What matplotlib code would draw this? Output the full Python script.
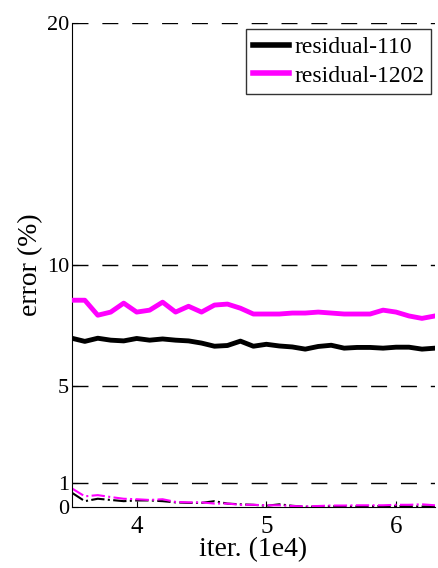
import matplotlib
matplotlib.use("Agg")
import matplotlib.pyplot as plt
import numpy as np

iters = [3.5, 3.6, 3.7, 3.8, 3.9, 4.0, 4.1, 4.2, 4.3, 4.4, 4.5, 4.6, 4.7, 4.8, 4.9,
         5.0, 5.1, 5.2, 5.3, 5.4, 5.5, 5.6, 5.7, 5.8, 5.9, 6.0, 6.1, 6.2, 6.3]
test_110 = [6.98, 6.85, 6.98, 6.90, 6.87, 6.97, 6.90, 6.95, 6.90, 6.87, 6.78, 6.65, 6.68, 6.86, 6.65,
            6.73, 6.66, 6.62, 6.53, 6.64, 6.69, 6.57, 6.60, 6.60, 6.57, 6.61, 6.61, 6.53, 6.57]
test_1202 = [8.55, 8.55, 7.93, 8.06, 8.43, 8.06, 8.14, 8.47, 8.06, 8.30, 8.06, 8.35, 8.39, 8.22, 7.98,
             7.98, 7.98, 8.02, 8.02, 8.06, 8.02, 7.98, 7.98, 7.98, 8.14, 8.06, 7.90, 7.80, 7.90]
train_110 = [0.60, 0.25, 0.35, 0.30, 0.25, 0.28, 0.28, 0.25, 0.20, 0.18, 0.18, 0.25, 0.15, 0.12, 0.10,
             0.06, 0.12, 0.06, 0.02, 0.03, 0.04, 0.03, 0.03, 0.04, 0.05, 0.05, 0.04, 0.03, 0.03]
train_1202 = [0.78, 0.45, 0.50, 0.42, 0.35, 0.33, 0.30, 0.33, 0.22, 0.20, 0.20, 0.15, 0.15, 0.10, 0.10,
              0.08, 0.08, 0.05, 0.03, 0.05, 0.07, 0.07, 0.08, 0.08, 0.08, 0.10, 0.10, 0.12, 0.08]
labels = ["residual-110", "residual-1202"]
yticks = [0, 1, 5, 10, 20]
xticks = [4, 5, 6]

plt.rcParams['font.family'] = ['Liberation Serif', 'DejaVu Serif']
MAG = '#ff00ff'

fig = plt.figure(figsize=(4.38, 5.68), dpi=100)
ax = fig.add_axes([0.164, 0.107, 0.829, 0.8525])

for yv in yticks[1:]:
    ax.axhline(yv, color='black', lw=1.0, dashes=(11.5, 10), zorder=1)

ax.plot(iters, train_110, color='black', lw=1.5, linestyle='-.', zorder=2)
ax.plot(iters, train_1202, color=MAG, lw=1.5, linestyle='-.', zorder=2)
ax.plot(iters, test_110, color='black', lw=3.5, label=labels[0], zorder=3)
ax.plot(iters, test_1202, color=MAG, lw=3.5, label=labels[1], zorder=3)

ax.set_xlim(3.5, 6.3)
ax.set_ylim(0, 20)
ax.set_yticks(yticks)
ax.set_xticks(xticks)
ax.tick_params(axis='y', direction='in', labelsize=16, length=4, pad=2)
ax.tick_params(axis='x', direction='in', labelsize=18, length=4, pad=6)
ax.spines['top'].set_visible(False)
ax.spines['right'].set_visible(False)
ax.set_xlabel('iter. (1e4)', fontsize=20, labelpad=0)
ax.set_ylabel('error (%)', fontsize=20, labelpad=3)

leg = ax.legend(loc='upper right', bbox_to_anchor=(0.99, 0.987), fontsize=17,
                handlelength=1.55, handletextpad=0.2, borderpad=0.3,
                labelspacing=0.3, frameon=True, fancybox=False, borderaxespad=0)
leg.get_frame().set_edgecolor('black')
leg.get_frame().set_linewidth(1.0)
for line in leg.get_lines():
    line.set_linewidth(4)

fig.savefig('out.png', dpi=100)
